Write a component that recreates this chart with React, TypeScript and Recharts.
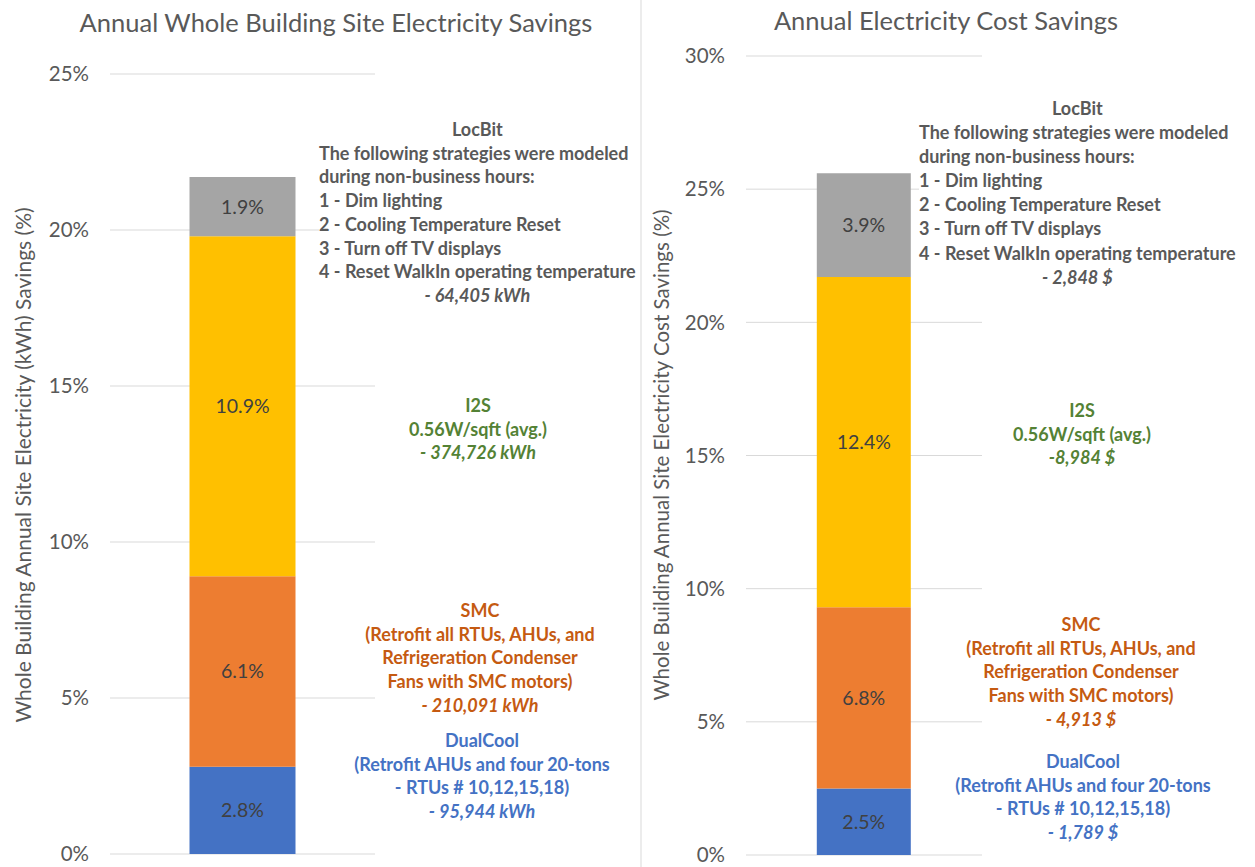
import React from 'react'
import { Bar, BarChart, CartesianGrid, LabelList, XAxis, YAxis } from 'recharts'

// bottom -> top stacking order
const segments = ['DualCool', 'SMC', 'I2S', 'LocBit']
const siteElectricitySavings = [2.8, 6.1, 10.9, 1.9]
const costSavings = [2.5, 6.8, 12.4, 3.9]
const siteTicks = [0, 5, 10, 15, 20, 25]
const costTicks = [0, 5, 10, 15, 20, 25, 30]

const segmentColors: Record<string, string> = {
  DualCool: '#4472C4',
  SMC: '#ED7D31',
  I2S: '#FFC000',
  LocBit: '#A5A5A5',
}

const FONT = 'Lato, "Open Sans", sans-serif'
const GRAY = '#595959'
const GREEN = '#548235'
const ORANGE = '#C55A11'
const BLUE = '#4472C4'

const toRow = (values: number[]) => {
  const row: Record<string, string | number> = { name: 'Savings' }
  segments.forEach((s, i) => (row[s] = values[i]))
  return [row]
}

type StackProps = {
  data: Record<string, string | number>[]
  ticks: number[]
  width: number
  margin: { top: number; right: number; bottom: number; left: number }
  axisWidth: number
}

function StackedBar({ data, ticks, width, margin, axisWidth }: StackProps) {
  return (
    <BarChart width={width} height={867} data={data} margin={margin} barCategoryGap="30%">
      <CartesianGrid vertical={false} stroke="#d9d9d9" />
      <XAxis dataKey="name" hide />
      <YAxis
        width={axisWidth}
        domain={[0, ticks[ticks.length - 1]]}
        ticks={ticks}
        tickFormatter={(v) => `${v}%`}
        axisLine={false}
        tickLine={false}
        tickSize={0}
        tickMargin={21}
        tick={{ fill: GRAY, fontSize: 20.5, fontFamily: FONT }}
      />
      {segments.map((s) => (
        <Bar key={s} dataKey={s} stackId="a" fill={segmentColors[s]} isAnimationActive={false}>
          <LabelList
            dataKey={s}
            position="center"
            formatter={(v: number) => `${v.toFixed(1)}%`}
            style={{ fill: '#404040', fontSize: 19.5, fontFamily: FONT }}
          />
        </Bar>
      ))}
    </BarChart>
  )
}

const noteBase: React.CSSProperties = {
  position: 'absolute',
  fontFamily: FONT,
  fontWeight: 700,
  fontSize: 18,
  lineHeight: '23.7px',
  whiteSpace: 'nowrap',
}

function CenteredNote({ cx, top, color, lines, value }: { cx: number; top: number; color: string; lines: string[]; value: string }) {
  return (
    <div style={{ ...noteBase, left: cx - 200, top, width: 400, textAlign: 'center', color }}>
      {lines.map((l) => (
        <div key={l}>{l}</div>
      ))}
      <div style={{ fontStyle: 'italic' }}>{value}</div>
    </div>
  )
}

const locBitLines = [
  'The following strategies were modeled',
  'during non-business hours:',
  '1 - Dim lighting',
  '2 - Cooling Temperature Reset',
  '3 - Turn off TV displays',
  '4 - Reset WalkIn operating temperature',
]

function LocBitNote({ left, top, value, step }: { left: number; top: number; value: string; step: number }) {
  return (
    <div style={{ ...noteBase, left, top, color: GRAY, background: '#fff', lineHeight: `${step}px` }}>
      <div style={{ textAlign: 'center' }}>LocBit</div>
      {locBitLines.map((l) => (
        <div key={l}>{l}</div>
      ))}
      <div style={{ textAlign: 'center', fontStyle: 'italic' }}>{value}</div>
    </div>
  )
}

export default function App() {
  return (
    <div style={{ position: 'absolute', left: 0, top: 0, width: 1255, height: 867, background: '#fff', overflow: 'hidden' }}>
      <div style={{ position: 'absolute', left: 0, top: 0 }}>
        <StackedBar
          data={toRow(siteElectricitySavings)}
          ticks={siteTicks}
          width={640}
          margin={{ top: 74, right: 265, bottom: 13, left: 0 }}
          axisWidth={110}
        />
      </div>
      <div style={{ position: 'absolute', left: 640, top: 0 }}>
        <StackedBar
          data={toRow(costSavings)}
          ticks={costTicks}
          width={615}
          margin={{ top: 56, right: 273, bottom: 12, left: 0 }}
          axisWidth={106}
        />
      </div>

      <svg width={1255} height={867} style={{ position: 'absolute', left: 0, top: 0, pointerEvents: 'none' }}>
        <line x1={641} y1={0} x2={641} y2={867} stroke="#d9d9d9" />
        <text x={336} y={22} textAnchor="middle" dominantBaseline="central" fill={GRAY} fontSize={25.5} fontFamily={FONT}>
          Annual Whole Building Site Electricity Savings
        </text>
        <text x={946} y={20} textAnchor="middle" dominantBaseline="central" fill={GRAY} fontSize={25.5} fontFamily={FONT}>
          Annual Electricity Cost Savings
        </text>
        <text
          transform="translate(22,465) rotate(-90)"
          textAnchor="middle"
          dominantBaseline="central"
          fill={GRAY}
          fontSize={21}
          fontFamily={FONT}
        >
          Whole Building Annual Site Electricity (kWh) Savings (%)
        </text>
        <text
          transform="translate(661,455) rotate(-90)"
          textAnchor="middle"
          dominantBaseline="central"
          fill={GRAY}
          fontSize={20.5}
          fontFamily={FONT}
        >
          Whole Building Annual Site Electricity Cost Savings (%)
        </text>
      </svg>

      <LocBitNote left={319} top={118} value="- 64,405 kWh" step={23.7} />
      <CenteredNote cx={478} top={394} color={GREEN} lines={['I2S', '0.56W/sqft (avg.)']} value="- 374,726 kWh" />
      <CenteredNote
        cx={480}
        top={599}
        color={ORANGE}
        lines={['SMC', '(Retrofit all RTUs, AHUs, and', 'Refrigeration Condenser', 'Fans with SMC motors)']}
        value="- 210,091 kWh"
      />
      <CenteredNote
        cx={482}
        top={729}
        color={BLUE}
        lines={['DualCool', '(Retrofit AHUs and four 20-tons', '- RTUs # 10,12,15,18)']}
        value="- 95,944 kWh"
      />

      <LocBitNote left={919} top={96} value="- 2,848 $" step={24.1} />
      <CenteredNote cx={1082} top={399} color={GREEN} lines={['I2S', '0.56W/sqft (avg.)']} value="-8,984 $" />
      <CenteredNote
        cx={1081}
        top={613}
        color={ORANGE}
        lines={['SMC', '(Retrofit all RTUs, AHUs, and', 'Refrigeration Condenser', 'Fans with SMC motors)']}
        value="- 4,913 $"
      />
      <CenteredNote
        cx={1083}
        top={750}
        color={BLUE}
        lines={['DualCool', '(Retrofit AHUs and four 20-tons', '- RTUs # 10,12,15,18)']}
        value="- 1,789 $"
      />
    </div>
  )
}
